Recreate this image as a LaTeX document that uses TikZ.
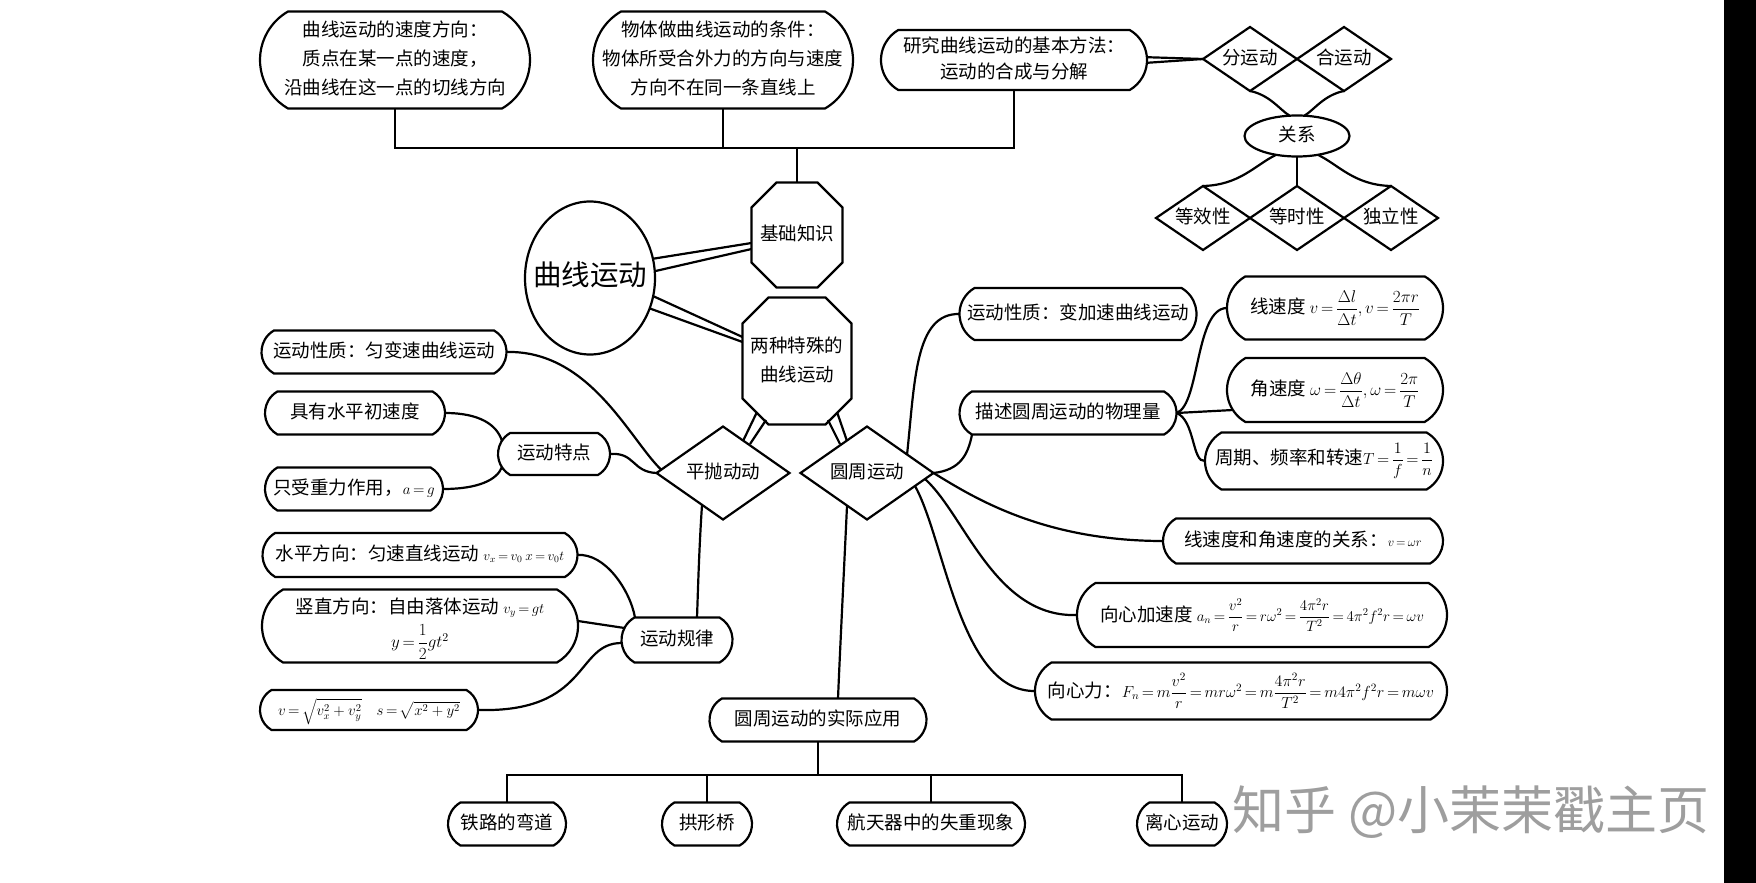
\RequirePackage{fix-cm}
\documentclass[tikz,border=0pt]{standalone}
\usepackage{amsmath}
\usepackage[no-math]{fontspec}
\setmainfont{Noto Sans CJK SC}
\usetikzlibrary{shapes.geometric,shapes.misc,calc}
\newcommand\zt[1]{\makebox[0pt]{\begin{tabular}{@{}c@{}}#1\end{tabular}}}
\newcommand\mth[2][14]{{\fontsize{#1}{#1}\selectfont$\thickmuskip=3mu #2$}}
\newcommand\drawocta[2]{\draw ($(#1.north west)+(#2,0)$) -- ($(#1.north east)+(-#2,0)$) -- ($(#1.north east)+(0,#2)$) -- ($(#1.south east)+(0,-#2)$) -- ($(#1.south east)+(-#2,0)$) -- ($(#1.south west)+(#2,0)$) -- ($(#1.south west)+(0,-#2)$) -- ($(#1.north west)+(0,#2)$) -- cycle;}
\tikzset{
  base/.style={inner sep=0pt, outer sep=0pt, font=\fontsize{18.5}{29}\selectfont},
  rbox/.style={base, draw, rounded rectangle, rounded rectangle arc length=120},
  dia/.style={base, draw, diamond},
  ell/.style={base, draw, ellipse},
  oct/.style={base, rectangle, draw=none},
}
\begin{document}
\begin{tikzpicture}[x=1pt,y=-1pt,line width=2.2pt]
\fill[white] (0,0) rectangle (1756,883);
\useasboundingbox (0,0) rectangle (1756,883);
\fill[black] (1724,0) rectangle (1756,883);

% top boxes
\node[rbox, minimum width=270pt, minimum height=97pt] (A) at (395,60) {\zt{曲线运动的速度方向：\\质点在某一点的速度，\\沿曲线在这一点的切线方向}};
\node[rbox, minimum width=260pt, minimum height=97pt] (B) at (723,60) {\zt{物体做曲线运动的条件：\\物体所受合外力的方向与速度\\方向不在同一条直线上}};
\node[rbox, minimum width=266pt, minimum height=60pt, font=\fontsize{18.5}{26}\selectfont] (C) at (1014,60) {\zt{研究曲线运动的基本方法：\\运动的合成与分解}};

\node[dia, minimum width=94pt, minimum height=64pt] (fen) at (1250,59) {\zt{分运动}};
\node[dia, minimum width=94pt, minimum height=64pt] (he) at (1344,59) {\zt{合运动}};
\node[ell, minimum width=105pt, minimum height=37pt] (guanxi) at (1297,136) {\zt{关系}};
\node[dia, minimum width=94pt, minimum height=64pt] (dengxiao) at (1203,218) {\zt{等效性}};
\node[dia, minimum width=94pt, minimum height=64pt] (dengshi) at (1297,218) {\zt{等时性}};
\node[dia, minimum width=94pt, minimum height=64pt] (duli) at (1391,218) {\zt{独立性}};

% center
\node[ell, minimum width=130pt, minimum height=153pt, font=\fontsize{28.5}{32}\selectfont] (quxian) at (590,278) {\zt{曲线运动}};
\node[oct, minimum width=91pt, minimum height=105pt] (jichu) at (797,235) {\zt{基础知识}};
\drawocta{jichu}{25}
\node[oct, minimum width=109pt, minimum height=127pt] (lz) at (797,361) {\zt{两种特殊的\\曲线运动}};
\drawocta{lz}{26}
\node[dia, minimum width=133pt, minimum height=93pt] (pp) at (723,473) {\zt{平抛动动}};
\node[dia, minimum width=133pt, minimum height=93pt] (yz) at (867,473) {\zt{圆周运动}};

% left side
\node[rbox, minimum width=245pt, minimum height=43pt] (xz1) at (384,352) {\zt{运动性质：匀变速曲线运动}};
\node[rbox, minimum width=180pt, minimum height=43pt] (jy) at (355,413) {\zt{具有水平初速度}};
\node[rbox, minimum width=112pt, minimum height=42pt] (td) at (554,454) {\zt{运动特点}};
\node[rbox, minimum width=178pt, minimum height=43pt] (zs) at (354,489) {\zt{只受重力作用，\mth[15]{a=g}}};
\node[rbox, minimum width=315pt, minimum height=44pt] (sp) at (420,555) {\zt{水平方向：匀速直线运动 \mth[13.5]{v_x=v_0\ x=v_0t}}};
\node[rbox, minimum width=316pt, minimum height=73pt] (sz) at (420,626) {\zt{竖直方向：自由落体运动 \mth[14.5]{v_y=gt}\\[3pt]\mth[17]{y=\dfrac{1}{2}gt^2}}};
\node[rbox, minimum width=218pt, minimum height=40pt] (sq) at (369,710) {\zt{\mth[15]{v=\sqrt{v_x^2+v_y^2}\quad s=\sqrt{x^2+y^2}}}};
\node[rbox, minimum width=111pt, minimum height=45pt] (gl) at (677,640) {\zt{运动规律}};

% right side
\node[rbox, minimum width=237pt, minimum height=52pt] (xz2) at (1078,314) {\zt{运动性质：变加速曲线运动}};
\node[rbox, minimum width=217pt, minimum height=43pt] (ms) at (1068,413) {\zt{描述圆周运动的物理量}};
\node[rbox, minimum width=216pt, minimum height=63pt] (xsd) at (1335,308) {\zt{线速度 \mth[17]{v=\dfrac{\Delta l}{\Delta t},v=\dfrac{2\pi r}{T}}}};
\node[rbox, minimum width=216pt, minimum height=64pt] (jsd) at (1335,390) {\zt{角速度 \mth[17]{\omega=\dfrac{\Delta\theta}{\Delta t},\omega=\dfrac{2\pi}{T}}}};
\node[rbox, minimum width=238pt, minimum height=57pt] (zq) at (1324,461) {\zt{周期、频率和转速\mth[16]{T=\dfrac{1}{f}=\dfrac{1}{n}}}};
\node[rbox, minimum width=280pt, minimum height=45pt] (gx) at (1303,541) {\zt{线速度和角速度的关系：\mth[12.5]{v=\omega r}}};
\node[rbox, minimum width=370pt, minimum height=64pt] (xa) at (1262,615) {\zt{向心加速度 \mth[15]{a_n=\dfrac{v^2}{r}=r\omega^2=\dfrac{4\pi^2r}{T^2}=4\pi^2f^2r=\omega v}}};
\node[rbox, minimum width=412pt, minimum height=57pt] (xl) at (1241,691) {\zt{向心力：\mth[16]{F_n=m\dfrac{v^2}{r}=mr\omega^2=m\dfrac{4\pi^2r}{T^2}=m4\pi^2f^2r=m\omega v}}};

% bottom
\node[rbox, minimum width=217pt, minimum height=43pt] (yy) at (818,720) {\zt{圆周运动的实际应用}};
\node[rbox, minimum width=118pt, minimum height=43pt] (b1) at (507,824) {\zt{铁路的弯道}};
\node[rbox, minimum width=90pt, minimum height=43pt] (b2) at (707,824) {\zt{拱形桥}};
\node[rbox, minimum width=188pt, minimum height=43pt] (b3) at (931,824) {\zt{航天器中的失重现象}};
\node[rbox, minimum width=90pt, minimum height=43pt] (b4) at (1182,824) {\zt{离心运动}};

\node[base, text=black!38, font=\fontsize{52}{54}\selectfont] (wm) at (1471,812) {知乎 @小茉茉戳主页};

% ---- connectors ----
\coordinate (hl) at (0,148);
\draw (A.south) -- (A.south |- hl) -- (C.south |- hl) -- (C.south);
\draw (B.south) -- (B.south |- hl);
\draw (jichu.north) -- (jichu.north |- hl);

\draw ([yshift=2.8pt]C.east) -- (fen.west);
\draw ([yshift=-2.8pt]C.east) -- (fen.west);
\draw (fen.south) .. controls (1270,95) and (1280,110) .. (guanxi.110);
\draw (he.south) .. controls (1324,95) and (1314,110) .. (guanxi.70);
\draw (guanxi.south) -- (dengshi.north);
\draw (guanxi.222) .. controls (1255,165) and (1240,185) .. (dengxiao.north);
\draw (guanxi.-42) .. controls (1339,165) and (1354,185) .. (duli.north);

\draw (quxian.17) -- ($(jichu.west)+(0,8)$);
\draw (quxian.6) -- ($(jichu.west)+(0,14)$);
\draw (quxian.-16) -- ($(lz.west)+(0,-24)$);
\draw (quxian.-27) -- ($(lz.west)+(0,-19)$);
\draw ($(lz.center)+(-40,51)$) -- ($(pp.center)+(20,-32)$);
\draw ($(lz.center)+(-31,59)$) -- ($(pp.center)+(27,-29)$);
\draw ($(lz.center)+(40,51)$) -- ($(yz.center)+(-20,-32)$);
\draw ($(lz.center)+(31,59)$) -- ($(yz.center)+(-27,-29)$);

\draw ($(pp.center)+(-21,32)$) .. controls (699,550) and (698,590) .. ($(gl.north)+(20,0)$);
\draw ($(yz.center)+(-20,33)$) .. controls (844,570) and (840,650) .. ($(yy.north)+(20,0)$);

\draw (xz1.east) .. controls (590,350) and (630,440) .. ($(pp.west)+(5,-3)$);
\draw (td.east) .. controls (635,452) and (632,472) .. (pp.west);
\draw (jy.east) .. controls (480,413) and (497,425) .. ($(td.west)+(4,-13)$);
\draw (zs.east) .. controls (478,489) and (497,480) .. ($(td.west)+(4,13)$);
\draw (sp.east) .. controls (605,553) and (630,590) .. ($(gl.north)+(-42,0)$);
\draw ($(sz.east)+(0,-5)$) -- ($(gl.west)+(3,-12)$);
\draw (sq.east) .. controls (590,713) and (575,643) .. ($(gl.west)+(0,3)$);

\draw ($(yz.center)+(40,-18)$) .. controls (915,380) and (915,313) .. (xz2.west);
\draw (yz.east) .. controls (960,470) and (968,455) .. ($(ms.south)+(-96,0)$);
\draw (ms.east) .. controls (1200,405) and (1195,308) .. (xsd.west);
\draw (ms.east) -- ($(jsd.west)+(6,20)$);
\draw (ms.east) .. controls (1195,420) and (1192,463) .. (zq.west);
\draw (yz.east) .. controls (970,495) and (1040,541) .. (gx.west);
\draw ($(yz.center)+(58,6)$) .. controls (965,515) and (995,618) .. (xa.west);
\draw ($(yz.center)+(48,13)$) .. controls (945,540) and (960,692) .. (xl.west);

\coordinate (bl) at (0,775);
\draw (yy.south) -- (yy.south |- bl);
\draw (b1.north) -- (b1.north |- bl) -- (b4.north |- bl) -- (b4.north);
\draw (b2.north) -- (b2.north |- bl);
\draw (b3.north) -- (b3.north |- bl);
\end{tikzpicture}
\end{document}
